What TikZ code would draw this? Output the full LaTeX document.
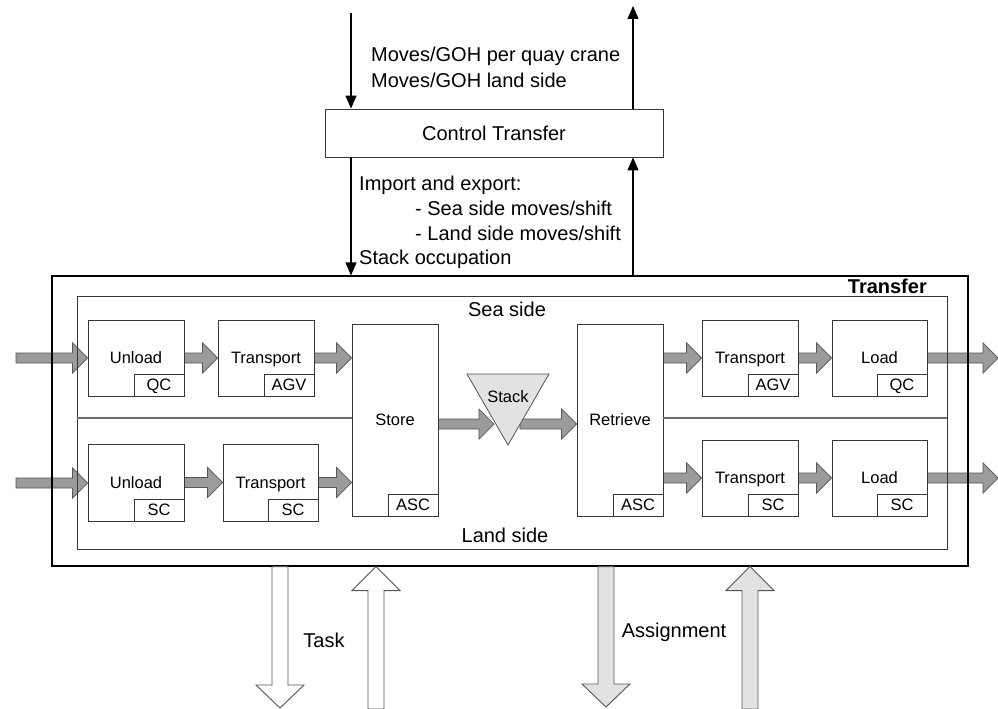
\documentclass[tikz,border=0pt]{standalone}
\usepackage{fontspec}
\setmainfont{Liberation Sans}
\usetikzlibrary{arrows.meta,calc}
\pgfdeclarelayer{bg}
\pgfsetlayers{bg,main}

\definecolor{flowfill}{RGB}{155,155,155}
\definecolor{flowline}{RGB}{85,85,85}
\definecolor{lightfill}{RGB}{226,226,226}
\definecolor{boxline}{RGB}{55,55,55}
\definecolor{divline}{RGB}{110,110,110}

\tikzset{
  big/.style={font=\fontsize{20}{24}\selectfont},
  small/.style={font=\fontsize{16.5}{20}\selectfont},
  txt/.style={big, inner sep=0pt, anchor=base west},
  procbox/.style={draw=boxline, line width=0.9pt, fill=white, small, text depth=0pt, inner sep=0pt},
  tagbox/.style={draw=boxline, line width=0.9pt, fill=white, small, minimum width=50pt,
    minimum height=22pt, inner sep=0pt, anchor=south east, text depth=0pt},
  sig/.style={line width=1.3pt, -{Triangle[length=13pt,width=11pt]}},
  flow/.style={draw=flowline, fill=flowfill, line width=0.7pt, line join=miter},
  bigflow/.style={draw=flowline, line width=0.9pt, line join=miter},
  % horizontal block arrow from the start point to the tip
  hflow/.style={to path={let \p1=(\tikztostart), \p2=(\tikztotarget) in
     (\x1,\y1+5pt) -- (\x2-15pt,\y1+5pt) -- (\x2-15pt,\y1+15pt) -- (\x2,\y1)
     -- (\x2-15pt,\y1-15pt) -- (\x2-15pt,\y1-5pt) -- (\x1,\y1-5pt) -- cycle}},
  % wide vertical block arrows, pointing down or up
  downflow/.style={to path={let \p1=(\tikztostart), \p2=(\tikztotarget) in
     (\x1-8pt,\y1) -- (\x1-8pt,\y2+23pt) -- (\x1-24pt,\y2+23pt) -- (\x1,\y2)
     -- (\x1+24pt,\y2+23pt) -- (\x1+8pt,\y2+23pt) -- (\x1+8pt,\y1) -- cycle}},
  upflow/.style={to path={let \p1=(\tikztostart), \p2=(\tikztotarget) in
     (\x1-8pt,\y1) -- (\x1-8pt,\y2-24pt) -- (\x1-24pt,\y2-24pt) -- (\x1,\y2)
     -- (\x1+24pt,\y2-24pt) -- (\x1+8pt,\y2-24pt) -- (\x1+8pt,\y1) -- cycle}},
}

\begin{document}
\begin{tikzpicture}[x=1pt,y=-1pt]
\useasboundingbox (0,0) rectangle (998,709);

% control level
\node[draw=boxline, line width=0.9pt, minimum width=338pt, minimum height=48pt, big]
  (ctrl) at (494,133) {Control Transfer};
\node[txt] (mv1) at (371,62) {Moves/GOH per quay crane};
\node[txt] (mv2) at (371,87) {Moves/GOH land side};
\node[txt] (ie) at (359,190) {Import and export:};
\node[txt] (ie1) at (415,215) {- Sea side moves/shift};
\node[txt] (ie2) at (415,240) {- Land side moves/shift};
\node[txt] (so) at (359,264) {Stack occupation};

% transfer system
\node[draw=black, line width=1.1pt, minimum width=916pt, minimum height=290pt]
  (transfer) at (510,421) {};
\node[draw=boxline, line width=0.9pt, minimum width=870pt, minimum height=253pt]
  (sides) at (512,422.5) {};
\node[font=\fontsize{20}{24}\selectfont\bfseries, inner sep=0pt, anchor=base east]
  (trlabel) at (927,293) {Transfer};
\node[big] (sea) at (507,309) {Sea side};
\node[big] (land) at (505,535) {Land side};

% processes
\node[procbox, minimum width=96pt, minimum height=76pt] (u1) at (136,358) {Unload};
\node[procbox, minimum width=96pt, minimum height=76pt] (t1) at (266,358) {Transport};
\node[procbox, minimum width=86pt, minimum height=192pt] (store) at (395,420) {Store};
\node[procbox, minimum width=86pt, minimum height=192pt] (retr) at (620,420) {Retrieve};
\node[procbox, minimum width=96pt, minimum height=76pt] (t2) at (750,358) {Transport};
\node[procbox, minimum width=95pt, minimum height=76pt] (l1) at (879.5,358) {Load};
\node[procbox, minimum width=96pt, minimum height=77pt] (u2) at (136,482.5) {Unload};
\node[procbox, minimum width=95pt, minimum height=77pt] (t3) at (270.5,482.5) {Transport};
\node[procbox, minimum width=96pt, minimum height=76pt] (t4) at (750,478) {Transport};
\node[procbox, minimum width=95pt, minimum height=76pt] (l2) at (879.5,478) {Load};

% equipment tags
\node[tagbox] (u1e) at (u1.south east) {QC};
\node[tagbox] (t1e) at (t1.south east) {AGV};
\node[tagbox] (ste) at (store.south east) {ASC};
\node[tagbox] (rte) at (retr.south east) {ASC};
\node[tagbox] (t2e) at (t2.south east) {AGV};
\node[tagbox] (l1e) at (l1.south east) {QC};
\node[tagbox] (u2e) at (u2.south east) {SC};
\node[tagbox] (t3e) at (t3.south east) {SC};
\node[tagbox] (t4e) at (t4.south east) {SC};
\node[tagbox] (l2e) at (l2.south east) {SC};

% sea side / land side divider
\coordinate (divL) at (77,418);
\coordinate (divR) at (947,418);
\draw[divline, line width=2.4pt] (divL) -- (divL -| store.west);
\draw[divline, line width=2.4pt] (divR -| retr.east) -- (divR);

% stack
\coordinate (stTL) at (467,374);
\coordinate (stTR) at (549,374);
\coordinate (stB) at (508,445);
\draw[draw=flowline, fill=lightfill, line width=0.8pt, line join=miter]
  (stTL) -- (stTR) -- (stB) -- cycle;
\node[small] (stack) at (508,397) {Stack};
\coordinate (stIn) at (494,424);
\coordinate (stOut) at (520,424);

% control signals
\coordinate (cin) at (351,13);
\coordinate (cout) at (633,6);
\draw[sig] (cin) -- (cin |- ctrl.north);
\draw[sig] (cout |- ctrl.north) -- (cout);
\draw[sig] (cin |- ctrl.south) -- (cin |- transfer.north);
\draw[sig] (cout |- transfer.north) -- (cout |- ctrl.south);

% container flow
\coordinate (inA) at (16,358);
\coordinate (inB) at (16,483);
\coordinate (outA) at (998,358);
\coordinate (outB) at (998,478);
\begin{pgfonlayer}{bg}
\draw[flow, hflow] (inA) to (u1.west);
\draw[flow, hflow] (u1.east) to (t1.west);
\draw[flow, hflow] (t1.east) to (store.west |- t1.east);
\draw[flow, hflow] (inB) to (u2.west);
\draw[flow, hflow] (u2.east) to (t3.west);
\draw[flow, hflow] (t3.east) to (store.west |- t3.east);
\draw[flow, hflow] (store.east |- stIn) to (stIn);
\draw[flow, hflow] (stOut) to (retr.west |- stOut);
\draw[flow, hflow] (retr.east |- t2.west) to (t2.west);
\draw[flow, hflow] (t2.east) to (l1.west);
\draw[flow, hflow] (l1.east) to (outA);
\draw[flow, hflow] (retr.east |- t4.west) to (t4.west);
\draw[flow, hflow] (t4.east) to (l2.west);
\draw[flow, hflow] (l2.east) to (outB);
\end{pgfonlayer}

% tasks and assignments
\coordinate (tkDn) at (280,708);
\coordinate (tkUp) at (376,709);
\coordinate (asDn) at (606,707);
\coordinate (asUp) at (750,709);
\draw[bigflow, fill=white, downflow] (transfer.south -| tkDn) to (tkDn);
\draw[bigflow, fill=white, upflow] (tkUp) to (transfer.south -| tkUp);
\draw[bigflow, fill=lightfill, downflow] (transfer.south -| asDn) to (asDn);
\draw[bigflow, fill=lightfill, upflow] (asUp) to (transfer.south -| asUp);
\node[big, inner sep=0pt, anchor=base] (task) at (324,647) {Task};
\node[big, inner sep=0pt, anchor=base] (asg) at (674,637) {Assignment};
\end{tikzpicture}
\end{document}
